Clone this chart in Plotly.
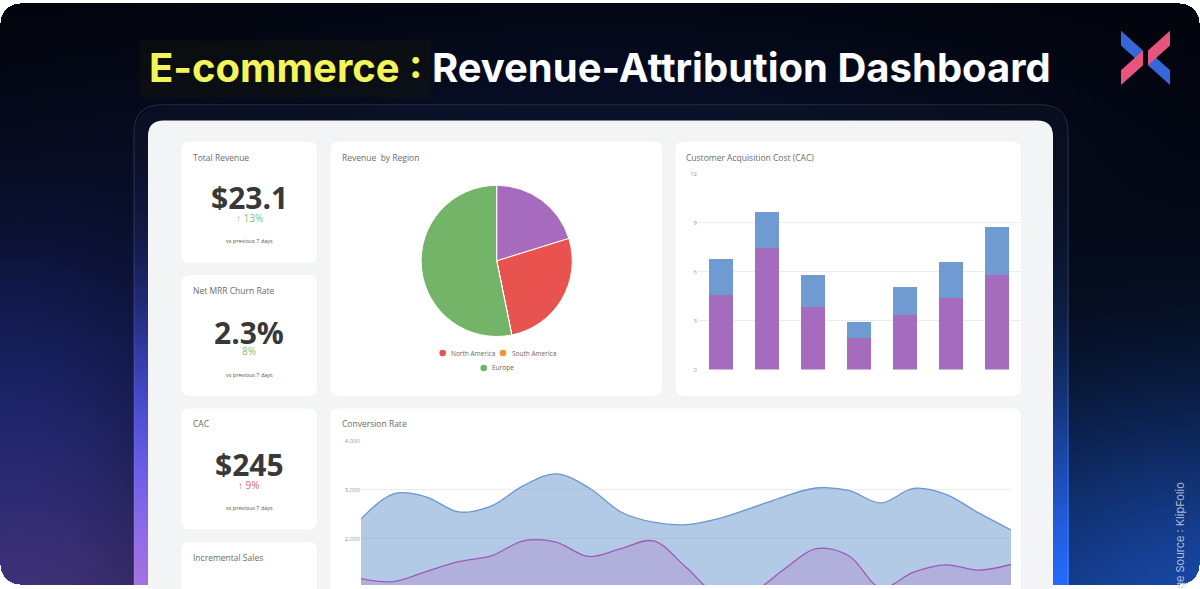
import base64
import struct
import zlib

import numpy as np
import plotly.graph_objects as go

W, H = 1200, 589

# ---------------- data ----------------
title_hi = "E-commerce :"
title_rest = "Revenue-Attribution Dashboard"

kpi_titles = ["Total Revenue", "Net MRR Churn Rate", "CAC", "Incremental Sales"]
kpi_values = ["$23.1", "2.3%", "$245"]
kpi_changes = ["\u2191 13%", "8%", "\u2191 9%"]
kpi_change_colors = ["#7cc47c", "#7cc47c", "#e0646a"]
kpi_note = "vs previous 7 days"

pie_labels = ["Asia", "North America", "South America", "Europe"]
pie_values = [20.2, 26.6, 0.0, 53.2]
pie_colors = ["#a66bbd", "#e8524f", "#f0962e", "#74b468"]
legend_labels = ["North America", "South America", "Europe"]
legend_colors = ["#e8524f", "#f0962e", "#74b468"]

cac_days = ["Mon", "Tue", "Wed", "Thu", "Fri", "Sat", "Sun"]
cac_base = [4.55, 7.45, 3.84, 1.92, 3.35, 4.40, 5.82]
cac_top = [2.25, 2.23, 1.96, 0.97, 1.72, 2.20, 2.91]
cac_ticks = [0, 3, 6, 9, 12]

conv_idx = list(range(21))
conv_total = [2405, 2920, 2860, 2550, 2670, 3090, 3327, 3050, 2550, 2340, 2290,
              2415, 2630, 2860, 3040, 2990, 2735, 3030, 2910, 2530, 2183]
conv_part = [1187, 1125, 1330, 1535, 1650, 1960, 1935, 1640, 1800, 1960, 1420,
             850, 900, 1370, 1800, 1660, 1000, 1320, 1470, 1360, 1476]
conv_ticks = [1000, 2000, 3000, 4000]


# ---------------- helpers ----------------
def X(px):
    return px / W


def Y(py):
    return 1 - py / H


def rrect(x0, y0, x1, y1, r):
    p = lambda x, y: f"{X(x):.5f},{Y(y):.5f}"
    return (f"M {p(x0 + r, y0)} L {p(x1 - r, y0)} Q {p(x1, y0)} {p(x1, y0 + r)} "
            f"L {p(x1, y1 - r)} Q {p(x1, y1)} {p(x1 - r, y1)} L {p(x0 + r, y1)} "
            f"Q {p(x0, y1)} {p(x0, y1 - r)} L {p(x0, y0 + r)} Q {p(x0, y0)} {p(x0 + r, y0)} Z")


def poly(pts):
    return "M " + " L ".join(f"{X(x):.5f},{Y(y):.5f}" for x, y in pts) + " Z"


# ---------------- background image ----------------
yy, xx = np.mgrid[0:H, 0:W].astype(float)


def glow(cx, cy, sx, sy, col):
    g = np.exp(-(((xx - cx) / sx) ** 2 + ((yy - cy) / sy) ** 2) / 2)[..., None]
    return g * np.array(col, dtype=float)


def rmask(x0, y0, x1, y1, r):
    inside = (xx >= x0) & (xx <= x1) & (yy >= y0) & (yy <= y1)
    cx = np.clip(xx, x0 + r, x1 - r)
    cy = np.clip(yy, y0 + r, y1 - r)
    return inside & (((xx - cx) ** 2 + (yy - cy) ** 2) <= r * r)


img = np.zeros((H, W, 3))
img[:] = (2, 4, 10)
img += glow(600, 130, 350, 90, (5, 10, 28))
img += glow(0, 400, 180, 140, (18, 26, 80))
img += glow(30, 650, 200, 130, (60, 38, 85))
img += glow(1240, 650, 280, 180, (24, 72, 165))

frame = rmask(134, 103, 1068, 800, 28)
fr = np.zeros_like(img)
fr += 4
fr += glow(141, 650, 40, 150, (110, 65, 95))
fr += glow(141, 430, 40, 110, (18, 26, 95))
fr += glow(1061, 640, 40, 200, (14, 45, 115))
img = np.where(frame[..., None], img + fr, img)

alpha = np.where(rmask(0, 0, W - 1, H - 1, 20), 255, 0)
rgba = np.concatenate([np.clip(img, 0, 255), alpha[..., None]], axis=2).astype(np.int16)

rows = np.zeros((H, 1 + W * 4), dtype=np.uint8)
rows[0, 0] = 0
rows[0, 1:] = rgba[0].reshape(-1).astype(np.uint8)
rows[1:, 0] = 2
rows[1:, 1:] = ((rgba[1:] - rgba[:-1]) % 256).reshape(H - 1, -1).astype(np.uint8)


def chunk(tag, data):
    c = struct.pack(">I", len(data)) + tag + data
    return c + struct.pack(">I", zlib.crc32(tag + data) & 0xFFFFFFFF)


png = (b"\x89PNG\r\n\x1a\n"
       + chunk(b"IHDR", struct.pack(">IIBBBBB", W, H, 8, 6, 0, 0, 0))
       + chunk(b"IDAT", zlib.compress(rows.tobytes(), 9))
       + chunk(b"IEND", b""))
bg_uri = "data:image/png;base64," + base64.b64encode(png).decode()

# ---------------- figure ----------------
fig = go.Figure()

# Pie
pcx, pcy, pr = 496.7, 261.0, 76.5
fig.add_trace(go.Pie(
    labels=pie_labels, values=pie_values, sort=False, direction="clockwise", rotation=0,
    marker=dict(colors=pie_colors, line=dict(color="white", width=1)),
    textinfo="none", showlegend=False, hoverinfo="skip",
    domain=dict(x=[X(pcx - pr), X(pcx + pr)], y=[Y(pcy + pr), Y(pcy - pr)]),
))

# CAC stacked bars
fig.add_trace(go.Bar(x=cac_days, y=cac_base, marker=dict(color="#a56bbd", line=dict(width=0)),
                     xaxis="x", yaxis="y", showlegend=False, hoverinfo="skip"))
fig.add_trace(go.Bar(x=cac_days, y=cac_top, marker=dict(color="#6f9bd2", line=dict(width=0)),
                     xaxis="x", yaxis="y", showlegend=False, hoverinfo="skip"))

# Conversion areas
fig.add_trace(go.Scatter(x=conv_idx, y=conv_total, mode="lines", fill="tozeroy",
                         line=dict(color="#6a97cf", width=1.3, shape="spline", smoothing=1),
                         fillcolor="rgba(104,150,208,0.50)", xaxis="x2", yaxis="y2",
                         showlegend=False, hoverinfo="skip"))
fig.add_trace(go.Scatter(x=conv_idx, y=conv_part, mode="lines", fill="tozeroy",
                         line=dict(color="#9b5cb8", width=1.3, shape="spline", smoothing=1),
                         fillcolor="rgba(173,113,192,0.30)", xaxis="x2", yaxis="y2",
                         showlegend=False, hoverinfo="skip"))

shapes = []
shapes.append(dict(type="path", path=rrect(134, 103, 1068, 800, 28), xref="paper", yref="paper",
                   line=dict(color="rgba(255,255,255,0.14)", width=1), fillcolor="rgba(0,0,0,0)",
                   layer="below"))
shapes.append(dict(type="path", path=rrect(148, 119, 1053, 800, 16), xref="paper", yref="paper",
                   line=dict(width=0), fillcolor="#f2f4f6", layer="below"))
cards = [(181.5, 140.5, 317, 263), (181.5, 275.5, 317, 397.5), (181.5, 410.5, 317, 532.5),
         (181.5, 545.5, 317, 700), (330.5, 140.5, 662, 397.5), (675.5, 140.5, 1021, 397.5),
         (330.5, 410.5, 1021, 700)]
for c in cards:
    shapes.append(dict(type="path", path=rrect(*c, 8), xref="paper", yref="paper",
                       line=dict(width=0), fillcolor="white", layer="below"))
shapes.append(dict(type="rect", x0=X(140), x1=X(431), y0=Y(96), y1=Y(38), xref="paper", yref="paper",
                   line=dict(width=0), fillcolor="rgba(30,30,0,0.25)", layer="below"))
blue, pink = "#3567d8", "#e8557c"
logo = [
    ([(1121, 28), (1143, 48), (1143, 63), (1121, 43)], blue),
    ([(1121, 68), (1143, 48), (1143, 63), (1121, 83)], pink),
    ([(1170, 68), (1148, 48), (1148, 63), (1170, 83)], blue),
    ([(1170, 28), (1148, 48), (1148, 63), (1170, 43)], pink),
]
for pts, col in logo:
    shapes.append(dict(type="path", path=poly(pts), xref="paper", yref="paper",
                       line=dict(width=0), fillcolor=col, layer="above"))
legend_pos = [(442.7, 354.3), (503.0, 354.3), (483.7, 369.3)]
for (lx, ly), col in zip(legend_pos, legend_colors):
    shapes.append(dict(type="circle", x0=X(lx - 3.3), x1=X(lx + 3.3), y0=Y(ly + 3.3), y1=Y(ly - 3.3),
                       xref="paper", yref="paper", line=dict(width=0), fillcolor=col))

ann = []


def T(x, y, text, size, color, anchor="left", family="Open Sans", weight=None, angle=0, height=None):
    f = dict(size=size, color=color, family=family)
    if weight:
        f["weight"] = weight
    a = dict(x=X(x), y=Y(y), xref="paper", yref="paper", text=text, showarrow=False,
             xanchor=anchor, yanchor="middle", font=f, textangle=angle, borderpad=0)
    if height:
        a["height"] = height
    ann.append(a)


T(600, 65, f"<span style='color:#f3f55a'>{title_hi}</span> {title_rest}", 40, "white",
  anchor="center", family="Inter", weight=700)
T(1180, 548, "Image Source : KlipFolio", 11, "rgba(205,215,235,0.85)", anchor="center",
  family="Inter", angle=-90)

kx = 249.3
title_y = [156, 291, 426, 561]
value_y = [196, 332.5, 467]
change_y = [217.3, 351.7, 487.3]
note_y = [240.7, 376, 511]
for i, t in enumerate(kpi_titles):
    T(191.5, title_y[i], t, 8.5, "#6b6b6b")
for i, v in enumerate(kpi_values):
    T(kx, value_y[i], v, 30, "#383838", anchor="center", weight=700, height=26)
    T(kx, change_y[i], kpi_changes[i], 10, kpi_change_colors[i], anchor="center", height=11)
    T(kx, note_y[i], kpi_note, 5.5, "#555555", anchor="center")

T(340.5, 156, "Revenue  by Region", 8.5, "#6b6b6b")
T(684.5, 156, "Customer Acquisition Cost (CAC)", 8.5, "#6b6b6b")
T(340.5, 426, "Conversion Rate", 8.5, "#6b6b6b")

for (lx, ly), lab in zip(legend_pos, legend_labels):
    T(lx + 7.5, ly, lab, 6.5, "#666666")

fig.update_layout(
    width=W, height=H, margin=dict(l=0, r=0, t=0, b=0),
    paper_bgcolor="white", plot_bgcolor="rgba(0,0,0,0)",
    barmode="stack", bargap=1 - 24 / 46,
    hovermode=False,
    shapes=shapes, annotations=ann,
    images=[dict(source=bg_uri, xref="paper", yref="paper", x=0, y=1, sizex=1, sizey=1,
                 xanchor="left", yanchor="top", sizing="stretch", layer="below")],
    xaxis=dict(domain=[X(698), X(1020)], showticklabels=False, showgrid=False, zeroline=False,
               showline=False, fixedrange=True),
    yaxis=dict(domain=[Y(371), Y(172.5)], range=[0, 12.03], tickvals=cac_ticks,
               gridcolor="#ececec", gridwidth=1, zeroline=False, showline=False,
               tickfont=dict(size=6, color="#9a9a9a", family="Open Sans"), fixedrange=True),
    xaxis2=dict(domain=[X(361), X(1011)], range=[0, 20], anchor="y2", showticklabels=False,
                showgrid=False, zeroline=False, showline=False, fixedrange=True),
    yaxis2=dict(domain=[0, Y(442.3)], range=[1057, 4020], anchor="x2", tickvals=conv_ticks,
                tickformat=",", gridcolor="#ececec", gridwidth=1, zeroline=False, showline=False,
                tickfont=dict(size=6, color="#9a9a9a", family="Open Sans"), fixedrange=True),
)

fig.write_html("out.html")
